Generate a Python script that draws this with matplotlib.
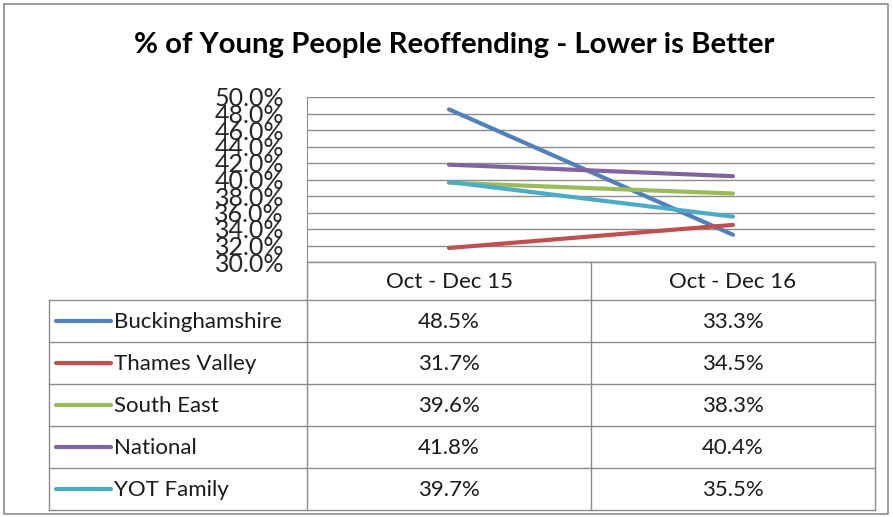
import matplotlib
matplotlib.use("Agg")
import matplotlib.pyplot as plt
from matplotlib.ticker import FuncFormatter, MultipleLocator

title = "% of Young People Reoffending - Lower is Better"
categories = ["Oct - Dec 15", "Oct - Dec 16"]
series_names = ["Buckinghamshire", "Thames Valley", "South East", "National", "YOT Family"]
buckinghamshire = [48.5, 33.3]
thames_valley = [31.7, 34.5]
south_east = [39.6, 38.3]
national = [41.8, 40.4]
yot_family = [39.7, 35.5]
series_values = [buckinghamshire, thames_valley, south_east, national, yot_family]
colors = ["#4F81BD", "#C0504D", "#9BBB59", "#8064A2", "#4BACC6"]

W, H = 893, 517
fig = plt.figure(figsize=(W / 100, H / 100), dpi=100)
font = "Lato"
grid_c = "#8C8C8C"

# overlay axes in pixel coordinates
ov = fig.add_axes([0, 0, 1, 1])
ov.set_xlim(0, W)
ov.set_ylim(H, 0)
ov.axis("off")

# outer border
ov.plot([4, 888, 888, 4, 4], [4, 4, 514, 514, 4], color="#8C8C8C", lw=1.2)

ov.text(454, 45, title, ha="center", va="center", fontsize=21.2,
        fontweight="bold", family=font)

# plot area
px0, px1 = 307, 875
py0, py1 = 97, 262
ax = fig.add_axes([px0 / W, 1 - py1 / H, (px1 - px0) / W, (py1 - py0) / H])
ax.set_xlim(0, len(categories))
ax.set_ylim(30, 50)
ax.yaxis.set_major_locator(MultipleLocator(2))
ax.yaxis.set_major_formatter(FuncFormatter(lambda v, p: f"{v:.1f}%"))
ax.grid(axis="y", color=grid_c, lw=1)
ax.set_xticks([])
for s in ["top", "right", "bottom"]:
    ax.spines[s].set_visible(False)
ax.spines["left"].set_color(grid_c)
ax.tick_params(axis="y", length=0, pad=16.5, labelsize=18, labelcolor="#262626")
for lab in ax.get_yticklabels():
    lab.set_family(font)
xs = [i + 0.5 for i in range(len(categories))]
for name, vals, c in zip(series_names, series_values, colors):
    ax.plot(xs, vals, color=c, lw=3, solid_capstyle="round")
ax.set_facecolor("none")

# data table
tx0 = 49
col_edges = [px0, px0 + (px1 - px0) / 2, px1]
row_edges = [262, 300, 342, 384, 426, 468, 510]
lc = grid_c
ov.plot([px0, px0], [row_edges[0], row_edges[-1]], color=lc, lw=1)
ov.plot([col_edges[1], col_edges[1]], [row_edges[0], row_edges[-1]], color=lc, lw=1)
ov.plot([px1, px1], [row_edges[0], row_edges[-1]], color=lc, lw=1)
ov.plot([tx0, tx0], [row_edges[1], row_edges[-1]], color=lc, lw=1)
ov.plot([px0, px1], [row_edges[0], row_edges[0]], color=lc, lw=1)
for y in row_edges[1:]:
    ov.plot([tx0, px1], [y, y], color=lc, lw=1)

fs = 16
for j, cat in enumerate(categories):
    cx = (col_edges[j] + col_edges[j + 1]) / 2
    ov.text(cx, (row_edges[0] + row_edges[1]) / 2 + 1, cat, ha="center", va="center",
            fontsize=fs, family=font, color="#1a1a1a")
for i, (name, vals, c) in enumerate(zip(series_names, series_values, colors)):
    cy = (row_edges[i + 1] + row_edges[i + 2]) / 2
    ov.plot([56, 111], [cy, cy], color=c, lw=3, solid_capstyle="round")
    ov.text(114, cy + 1, name, ha="left", va="center", fontsize=fs, family=font,
            color="#1a1a1a")
    for j, v in enumerate(vals):
        cx = (col_edges[j] + col_edges[j + 1]) / 2
        ov.text(cx, cy + 1, f"{v:.1f}%", ha="center", va="center", fontsize=fs,
                family=font, color="#1a1a1a")

fig.savefig("out.png", dpi=100)
